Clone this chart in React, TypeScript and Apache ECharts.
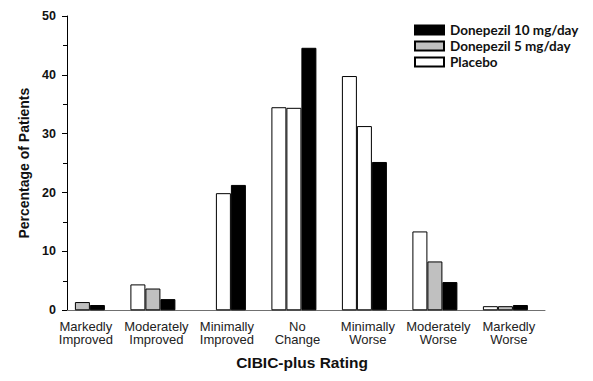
import React, { useEffect, useRef } from "react";
import * as echarts from "echarts";

const categories = [
  "Markedly\nImproved",
  "Moderately\nImproved",
  "Minimally\nImproved",
  "No\nChange",
  "Minimally\nWorse",
  "Moderately\nWorse",
  "Markedly\nWorse",
];
const placebo: (number | null)[] = [null, 4.4, null, 34.5, 39.8, 13.4, 0.7];
const donepezil5: number[] = [1.4, 3.7, 19.9, 34.4, 31.3, 8.3, 0.7];
const donepezil10: number[] = [0.9, 1.9, 21.3, 44.6, 25.2, 4.8, 0.9];
// categories where the middle bar appears unfilled in the picture
const unfilledMiddle = ["Minimally\nImproved", "No\nChange", "Minimally\nWorse"];
const yTicks = { min: 0, max: 50, interval: 10 };
const seriesNames = ["Placebo", "Donepezil 5 mg/day", "Donepezil 10 mg/day"];

export default function App() {
  const ref = useRef<HTMLDivElement>(null);
  useEffect(() => {
    document.body.style.margin = "0";
    const chart = echarts.init(ref.current!, null, { renderer: "svg" });
    const labelFont = "'Liberation Sans', Arial, sans-serif";
    const option: any = {
      animation: false,
      backgroundColor: "#fff",
      grid: [
        { left: 47.15, width: 493.5, top: 16, height: 294.3 },
        { left: 67, width: 478, top: 16, height: 294.3 },
      ],
      legend: {
        data: [seriesNames[2], seriesNames[1], seriesNames[0]],
        orient: "vertical",
        left: 409,
        top: 18,
        icon: "rect",
        itemWidth: 29,
        itemHeight: 9,
        itemGap: 2,
        textStyle: {
          fontFamily: "Lato, 'Open Sans', sans-serif",
          fontWeight: "bold",
          fontSize: 13.5,
          color: "#111",
          padding: [0, 0, 0, 1],
        },
      },
      xAxis: [
        {
          gridIndex: 0,
          type: "category",
          data: categories,
          axisLine: { show: false },
          axisTick: { show: false },
          axisLabel: {
            interval: 0,
            margin: 9,
            formatter: (v: string) =>
              v
                .split("\n")
                .map((s) => "{a|" + s + "}")
                .join("\n"),
            rich: {
              a: {
                fontFamily: labelFont,
                fontSize: 13,
                color: "#222",
                lineHeight: 13.5,
                padding: [0, 0, 0, 7],
              },
            },
          },
        },
        {
          gridIndex: 1,
          type: "value",
          min: 0,
          max: 1,
          axisLine: { show: true, lineStyle: { color: "#707070", width: 1 } },
          axisTick: { show: false },
          axisLabel: { show: false },
          splitLine: { show: false },
        },
      ],
      yAxis: [
        {
          gridIndex: 0,
          type: "value",
          ...yTicks,
          show: false,
        },
        {
          gridIndex: 1,
          type: "value",
          ...yTicks,
          name: "Percentage of Patients",
          nameLocation: "middle",
          nameGap: 36,
          nameTextStyle: {
            fontFamily: labelFont,
            fontWeight: "bold",
            fontSize: 14,
            color: "#111",
          },
          axisLine: { show: true, lineStyle: { color: "#000", width: 1 } },
          axisTick: { show: true, length: 5, lineStyle: { color: "#000" } },
          minorTick: { show: true, splitNumber: 2, length: 4, lineStyle: { color: "#000" } },
          axisLabel: {
            margin: 11,
            fontFamily: labelFont,
            fontWeight: "bold",
            fontSize: 12.5,
            color: "#111",
          },
          splitLine: { show: false },
        },
      ],
      graphic: [
        {
          type: "text",
          x: 302,
          y: 362,
          style: {
            text: "CIBIC-plus Rating",
            fontFamily: labelFont,
            fontWeight: "bold",
            fontSize: 15.5,
            fill: "#111",
            align: "center",
            verticalAlign: "middle",
          },
        },
      ],
      series: [
        {
          name: seriesNames[0],
          type: "bar",
          xAxisIndex: 0,
          yAxisIndex: 0,
          barWidth: 15,
          barGap: "0%",
          data: placebo.map((v) => (v === null ? "-" : v)),
          itemStyle: { color: "#fff", borderColor: "#000", borderWidth: 1 },
        },
        {
          name: seriesNames[1],
          type: "bar",
          xAxisIndex: 0,
          yAxisIndex: 0,
          barWidth: 15,
          barGap: "0%",
          data: donepezil5.map((v, i) =>
            unfilledMiddle.includes(categories[i])
              ? { value: v, itemStyle: { color: "#fff" } }
              : v
          ),
          itemStyle: { color: "#c0c0c0", borderColor: "#000", borderWidth: 1 },
        },
        {
          name: seriesNames[2],
          type: "bar",
          xAxisIndex: 0,
          yAxisIndex: 0,
          barWidth: 15,
          barGap: "0%",
          data: donepezil10,
          itemStyle: { color: "#000", borderColor: "#000", borderWidth: 1 },
        },
      ],
    };
    chart.setOption(option);
    return () => chart.dispose();
  }, []);
  return <div ref={ref} style={{ width: 593, height: 381 }} />;
}
